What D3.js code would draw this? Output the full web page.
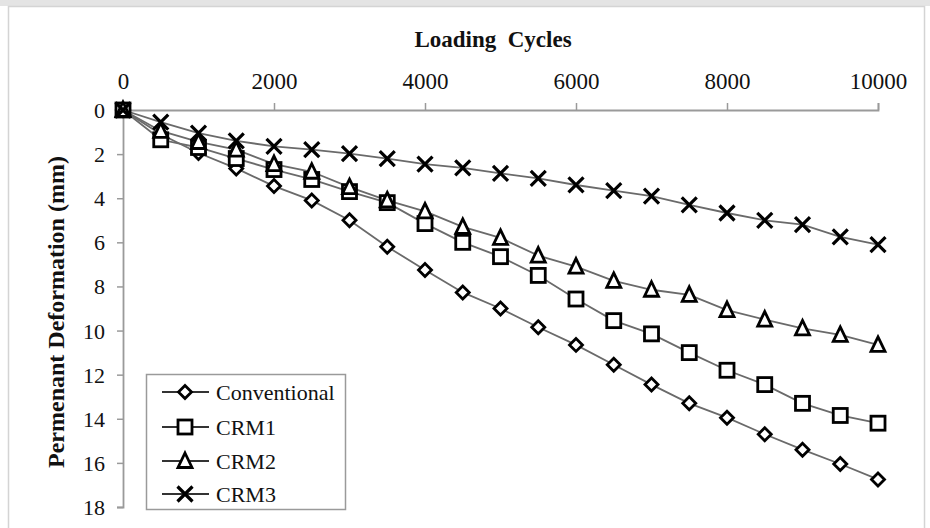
<!DOCTYPE html>
<html>
<head>
<meta charset="utf-8">
<script src="https://cdn.jsdelivr.net/npm/d3@7"></script>
<style>
  html, body { margin: 0; padding: 0; background: #fff; }
  svg { display: block; font-family: "Liberation Serif", "Times New Roman", serif; }
</style>
</head>
<body>
<svg id="chart" width="930" height="528"></svg>
<script>
// Loading cycles at which deformation was recorded
const cycles = [0, 500, 1000, 1500, 2000, 2500, 3000, 3500, 4000, 4500, 5000,
                5500, 6000, 6500, 7000, 7500, 8000, 8500, 9000, 9500, 10000];

// Permanent deformation (mm) per mixture
const conventional = [0, 1.1, 1.95, 2.65, 3.45, 4.1, 5.0, 6.2, 7.25, 8.27, 9.0,
                      9.85, 10.65, 11.55, 12.45, 13.3, 13.95, 14.7, 15.4, 16.05, 16.75];
const crm1 = [0, 1.35, 1.7, 2.2, 2.7, 3.15, 3.7, 4.2, 5.15, 6.0, 6.65,
              7.5, 8.57, 9.55, 10.15, 11.0, 11.8, 12.45, 13.3, 13.85, 14.2];
const crm2 = [0, 0.95, 1.45, 1.8, 2.45, 2.8, 3.5, 4.1, 4.6, 5.3, 5.8,
              6.6, 7.1, 7.75, 8.15, 8.38, 9.07, 9.5, 9.9, 10.2, 10.65];
const crm3 = [0, 0.55, 1.05, 1.4, 1.65, 1.8, 1.98, 2.2, 2.45, 2.62, 2.87,
              3.1, 3.4, 3.66, 3.9, 4.3, 4.67, 5.0, 5.2, 5.75, 6.1];

const seriesNames = ["Conventional", "CRM1", "CRM2", "CRM3"];
const seriesValues = [conventional, crm1, crm2, crm3];
const seriesMarkers = ["diamond", "square", "triangle", "cross"];

const xTicks = [0, 2000, 4000, 6000, 8000, 10000];
const yTicks = [0, 2, 4, 6, 8, 10, 12, 14, 16, 18];

const svg = d3.select("#chart");

// outer chart frame
svg.append("rect").attr("x", 0).attr("y", 0).attr("width", 930).attr("height", 6)
  .attr("fill", "#e4e4e4");
svg.append("rect").attr("x", 8.5).attr("y", 6.5).attr("width", 916).attr("height", 530)
  .attr("fill", "#fff").attr("stroke", "#d4d4d4").attr("stroke-width", 1.5);

const x = d3.scaleLinear().domain([0, 10000]).range([123, 878]);
const y = d3.scaleLinear().domain([0, 18]).range([110, 507]);

const axisColor = "#9a9a9a";

// top x axis
const xAxis = svg.append("g").attr("transform", `translate(0,${y(0)})`)
  .call(d3.axisTop(x).tickValues(xTicks).tickSize(7).tickPadding(14).tickFormat(d3.format("d")));
// left y axis
const yAxis = svg.append("g").attr("transform", `translate(${x(0)},0)`)
  .call(d3.axisLeft(y).tickValues(yTicks).tickSize(6).tickPadding(12).tickFormat(d3.format("d")));

[xAxis, yAxis].forEach(g => {
  g.select(".domain").attr("stroke", axisColor).attr("stroke-width", 1.8);
  g.selectAll(".tick line").attr("stroke", axisColor).attr("stroke-width", 1.5);
  g.selectAll(".tick text").attr("fill", "#111")
    .attr("font-family", "Liberation Serif, Times New Roman, serif");
});
xAxis.selectAll(".tick text").attr("font-size", 23);
yAxis.selectAll(".tick text").attr("font-size", 22).attr("dy", "0.34em");

// axis titles
svg.append("text").attr("x", 493).attr("y", 47).attr("text-anchor", "middle")
  .attr("font-weight", "bold").attr("font-size", 23).attr("fill", "#111")
  .attr("xml:space", "preserve").text("Loading  Cycles");
svg.append("text").attr("transform", "translate(64,312) rotate(-90)")
  .attr("text-anchor", "middle").attr("font-weight", "bold").attr("font-size", 24)
  .attr("fill", "#111").text("Permenant Deformation (mm)");

// marker drawing
function drawMarker(g, type) {
  const sw = 2.8;
  if (type === "diamond") {
    g.append("path").attr("d", "M0,-6.5L6.5,0L0,6.5L-6.5,0Z")
      .attr("fill", "#fff").attr("stroke", "#000").attr("stroke-width", sw);
  } else if (type === "square") {
    g.append("rect").attr("x", -7).attr("y", -7).attr("width", 14).attr("height", 14)
      .attr("fill", "#fff").attr("stroke", "#000").attr("stroke-width", sw);
  } else if (type === "triangle") {
    g.append("path").attr("d", "M0,-8L7,6.5L-7,6.5Z")
      .attr("fill", "#fff").attr("stroke", "#000").attr("stroke-width", sw);
  } else {
    g.append("path").attr("d", "M-7.5,-7.5L7.5,7.5M-7.5,7.5L7.5,-7.5")
      .attr("fill", "none").attr("stroke", "#000").attr("stroke-width", 3.2);
  }
}

const line = d3.line().x((d, i) => x(cycles[i])).y(d => y(d));

// lines first, then markers on top
seriesValues.forEach(vals => {
  svg.append("path").datum(vals).attr("d", line)
    .attr("fill", "none").attr("stroke", "#6a6a6a").attr("stroke-width", 1.8);
});
seriesValues.forEach((vals, s) => {
  vals.forEach((v, i) => {
    const g = svg.append("g").attr("transform", `translate(${x(cycles[i])},${y(v)})`);
    drawMarker(g, seriesMarkers[s]);
  });
});

// legend
const legend = svg.append("g");
legend.append("rect").attr("x", 146.5).attr("y", 374.5).attr("width", 199).attr("height", 135)
  .attr("fill", "#fff").attr("stroke", "#9a9a9a").attr("stroke-width", 1.5);
const legendY = [392, 427, 461, 494];
seriesNames.forEach((name, s) => {
  const ly = legendY[s];
  legend.append("line").attr("x1", 162).attr("x2", 209).attr("y1", ly).attr("y2", ly)
    .attr("stroke", "#333").attr("stroke-width", 1.8);
  const g = legend.append("g").attr("transform", `translate(185,${ly})`);
  drawMarker(g, seriesMarkers[s]);
  legend.append("text").attr("x", 216).attr("y", ly).attr("dy", "0.35em")
    .attr("font-size", 22).attr("fill", "#111").text(name);
});
</script>
</body>
</html>
